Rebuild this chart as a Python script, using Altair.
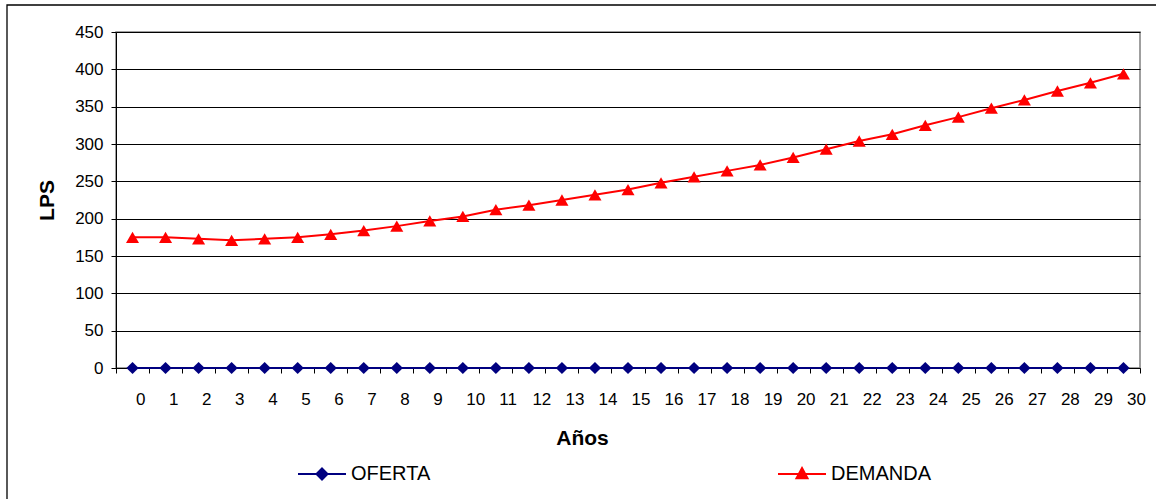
import altair as alt
import pandas as pd

# Years on the horizontal axis
years = [0, 1, 2, 3, 4, 5, 6, 7, 8, 9, 10, 11, 12, 13, 14, 15, 16, 17, 18, 19, 20,
         21, 22, 23, 24, 25, 26, 27, 28, 29, 30]

# Supply (LPS)
oferta = [0, 0, 0, 0, 0, 0, 0, 0, 0, 0, 0, 0, 0, 0, 0, 0, 0, 0, 0, 0, 0,
          0, 0, 0, 0, 0, 0, 0, 0, 0, 0]

# Demand (LPS)
demanda = [175, 175, 173, 171, 173, 175, 179, 184, 190, 197, 203, 212, 218, 225, 232,
           239, 248, 256, 264, 272, 282, 293, 304, 313, 325, 336, 348, 359, 371, 382, 394]

y_ticks = [0, 50, 100, 150, 200, 250, 300, 350, 400, 450]

FONT = "Liberation Sans"

x_enc = alt.X(
    "Año:O",
    scale=alt.Scale(type="band", paddingInner=0, paddingOuter=0),
    axis=alt.Axis(
        title="Años",
        titleFont=FONT,
        titleFontSize=21,
        titleFontWeight="bold",
        titleColor="black",
        titleX=466,
        titleY=76,
        titleAlign="center",
        titleBaseline="alphabetic",
        labelAngle=0,
        labelFont=FONT,
        labelFontSize=17,
        labelColor="black",
        labelAlign="left",
        labelOffset=3,
        labelPadding=18,
        tickBand="extent",
        tickSize=5,
        tickColor="black",
        domainColor="black",
        grid=False,
    ),
)

y_enc = alt.Y(
    "LPS:Q",
    scale=alt.Scale(domain=[0, 450], nice=False),
    axis=alt.Axis(
        title="LPS",
        titleFont=FONT,
        titleFontSize=21,
        titleFontWeight="bold",
        titleColor="black",
        titleX=-63,
        titleY=168,
        titleAngle=270,
        titleAlign="center",
        titleBaseline="alphabetic",
        values=y_ticks,
        labelFont=FONT,
        labelFontSize=17,
        labelColor="black",
        labelPadding=8,
        tickSize=5,
        tickColor="black",
        domainColor="black",
        grid=True,
        gridColor="black",
        gridWidth=1,
        gridOpacity=1,
    ),
)


def series_layer(name, values, color, shape, size, legend_symbol, legend_x):
    """Line with markers for one series, with its own legend entry."""
    df = pd.DataFrame({"Año": years, "LPS": values, "Serie": [name] * len(years)})
    legend = alt.Legend(
        title=None,
        orient="none",
        legendX=legend_x,
        legendY=417,
        padding=0,
        labelFont=FONT,
        labelFontSize=20,
        labelColor="black",
        labelOffset=4,
        symbolType=legend_symbol,
        symbolSize=2304,
        symbolFillColor=color,
        symbolStrokeColor=color,
        symbolStrokeWidth=2,
        symbolOpacity=1,
    )
    color_enc = alt.Color(
        "Serie:N", scale=alt.Scale(domain=[name], range=[color]), legend=legend
    )
    line = alt.Chart(df).mark_line(strokeWidth=2).encode(x=x_enc, y=y_enc, color=color_enc)
    pts = alt.Chart(df).mark_point(
        filled=True, shape=shape, size=size, opacity=1
    ).encode(x=x_enc, y=y_enc, color=color_enc)
    return alt.layer(line, pts)


# Legend symbols: a short line with the series marker in the middle
sym_oferta = "M-1,0H1M0,-0.23L0.23,0L0,0.23L-0.23,0Z"
sym_demanda = "M-1,0H1M0,-0.25L0.23,0.18L-0.23,0.18Z"

oferta_layer = series_layer("OFERTA", oferta, "#000080", "diamond", 150, sym_oferta, 181)
demanda_layer = series_layer("DEMANDA", demanda, "#FF0000", "triangle-up", 170, sym_demanda, 661)

# Outer frame around the whole figure
frame = alt.Chart(pd.DataFrame({"k": [0]})).mark_rect(
    fill=None, stroke="black", strokeWidth=1.3
).encode(
    x=alt.value(-109), x2=alt.value(1046), y=alt.value(-27), y2=alt.value(475)
)

chart = (
    alt.layer(frame, oferta_layer, demanda_layer)
    .resolve_scale(color="independent")
    .resolve_legend(color="independent")
    .properties(
        width=1024,
        height=336,
        padding={"left": 116, "top": 32, "right": 16, "bottom": 131},
        autosize=alt.AutoSizeParams(type="none"),
        background="white",
    )
    .configure_view(stroke="#808080", strokeWidth=1.5)
)

chart.save("out.html", embed_options={"renderer": "svg", "actions": False})
